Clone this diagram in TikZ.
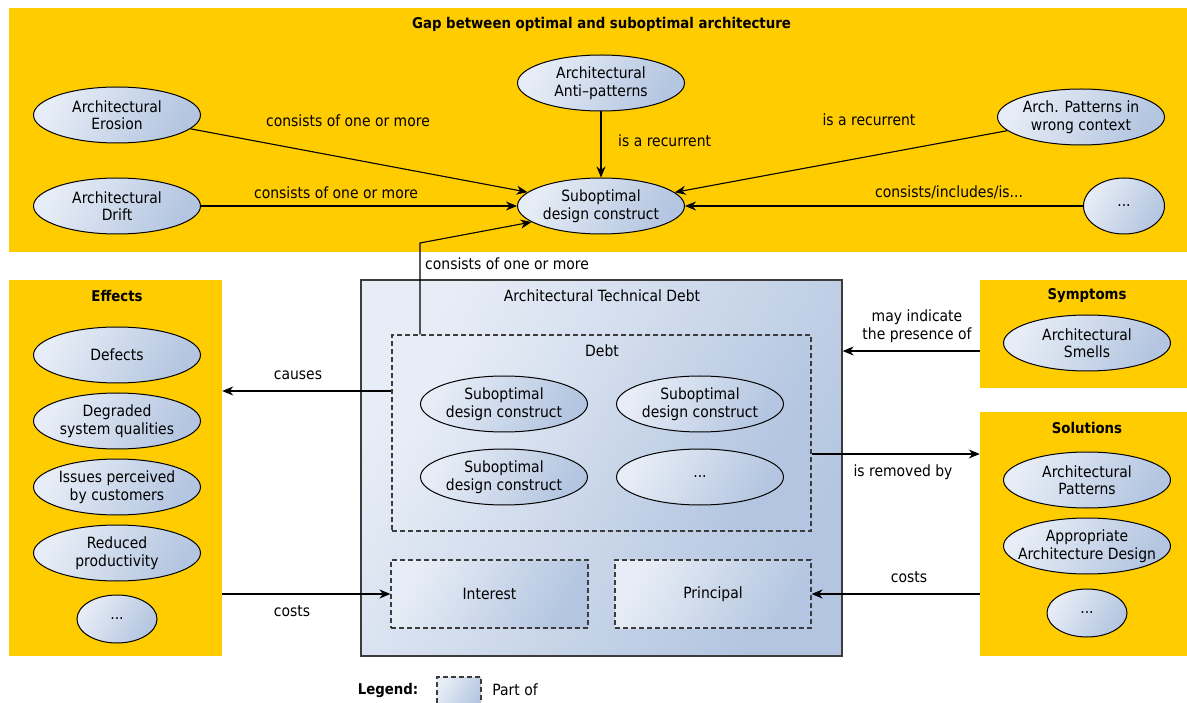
\documentclass[tikz,border=0pt]{standalone}
\usepackage{fontspec}
\setmainfont{DejaVu Sans}[FakeStretch=0.9]
\usepackage{tikz}
\usetikzlibrary{positioning, arrows.meta, shapes.geometric}
\definecolor{gapyellow}{HTML}{FFCC00}
\definecolor{ellLight}{HTML}{E7EDF6}
\definecolor{ellDark}{HTML}{B3C5E0}
\definecolor{frameGray}{HTML}{3C3C3C}
\tikzset{>={Stealth[length=11pt,width=9pt,inset=3.5pt]},
every node/.style={font=\fontsize{15.5}{17.5}\selectfont},
area/.style={rectangle, fill=gapyellow, inner sep=0pt},
ttl/.style={font=\fontsize{14.8}{17.5}\selectfont\bfseries},
ell/.style={ellipse, draw, line width=1pt, left color=ellLight, right color=ellDark,
  shading angle=60, minimum width=167pt, minimum height=56pt,
  inner xsep=-30pt, inner ysep=0pt, align=center},
dots/.style={ell, minimum width=80pt, minimum height=48pt},
part/.style={rectangle, draw=frameGray, line width=1.1pt, dash pattern=on 5pt off 3pt,
  left color=ellLight, right color=ellDark, shading angle=60, inner sep=0pt},
lbl/.style={align=center, inner sep=1pt},
link/.style={draw, ->, line width=1.1pt}
}

\begin{document}
\begin{tikzpicture}[x=1pt, y=-1pt]
\useasboundingbox (0,0) rectangle (1187,703);
% yellow areas
\node[area, minimum width=1185pt, minimum height=244pt] (gap) at (601.5,130) {};
\node[area, minimum width=213pt, minimum height=376pt] (effects) at (115.5,468) {};
\node[area, minimum width=214pt, minimum height=108pt] (symp) at (1087,334) {};
\node[area, minimum width=214pt, minimum height=244pt] (sol) at (1087,534) {};
\node[ttl] (gapT) at (601.5,24) {Gap between optimal and suboptimal architecture};
\node[ttl] (effT) at (117,296) {Effects};
\node[ttl] (sympT) at (1087,296) {Symptoms};
\node[ttl] (solT) at (1087,428) {Solutions};

% gap
\node[ell] (ero) at (117,115) {Architectural\\Erosion};
\node[ell] (drift) at (117,206) {Architectural\\Drift};
\node[ell] (anti) at (601,83) {Architectural\\Anti--patterns};
\node[ell] (sdc) at (601,206) {Suboptimal\\design construct};
\node[ell] (apw) at (1081,117) {Arch. Patterns in\\wrong context};
\node[dots, minimum width=81pt, minimum height=56pt] (more) at (1124,206) {...};

% effects
\node[ell] (def) at (117,355) {Defects};
\node[ell, below=9pt of def] (deg) {Degraded\\system qualities};
\node[ell, below=9pt of deg] (iss) {Issues perceived\\by customers};
\node[ell, below=9pt of iss] (red) {Reduced\\productivity};
\node[dots, below=13pt of red] (eDots) {...};

% architectural technical debt
\node[rectangle, draw=frameGray, line width=1.3pt, left color=ellLight, right color=ellDark,
  shading angle=60, minimum width=481pt, minimum height=376pt] (atd) at (601.5,468) {};
\node (atdT) at (602,296) {Architectural Technical Debt};
\node[part, minimum width=419pt, minimum height=196pt] (debt) at (601.5,433) {};
\node (debtT) at (602,351) {Debt};
\node[ell] (dsc1) at (504,404) {Suboptimal\\design construct};
\node[ell, right=28pt of dsc1] (dsc2) {Suboptimal\\design construct};
\node[ell, below=16pt of dsc1] (dsc3) {Suboptimal\\design construct};
\node[ell, below=16pt of dsc2] (dDots) {...};
\node[part, minimum width=197pt, minimum height=68pt] (interest) at (489.5,594) {Interest};
\node[part, minimum width=196pt, minimum height=68pt] (principal) at (713,594) {Principal};

% symptoms, solutions
\node[ell] (smells) at (1087,343) {Architectural\\Smells};
\node[ell] (patt) at (1087,480) {Architectural\\Patterns};
\node[ell, below=9pt of patt] (appr) {Appropriate\\Architecture Design};
\node[dots, below=14pt of appr] (sDots) {...};

% labels
\node[lbl] (lEro) at (348,121) {consists of one or more};
\node[lbl] (lDrift) at (336,193) {consists of one or more};
\node[lbl, anchor=west] (lAnti) at (617,141) {is a recurrent};
\node[lbl] (lApw) at (869,120) {is a recurrent};
\node[lbl] (lMore) at (949,192) {consists/includes/is...};
\node[lbl, anchor=west] (lDebt) at (424,264) {consists of one or more};
\node[lbl] (lCause) at (298,375) {causes};
\node[lbl] (lCostE) at (292,611) {costs};
\node[lbl] (lSymp) at (917,326) {may indicate\\the presence of};
\node[lbl] (lRem) at (903,472) {is removed by};
\node[lbl] (lCostS) at (909,577) {costs};

\coordinate (bend) at (420,243);
\coordinate (causeY) at (0,391);
\coordinate (sympY) at (0,351);
\coordinate (remY) at (0,454);

\path[every edge/.style=link]
(ero) edge (sdc)
(drift) edge (sdc)
(anti) edge (sdc)
(apw) edge (sdc)
(more) edge (sdc)
(debt.west |- causeY) edge (effects.east |- causeY)
(effects.east |- interest) edge (interest.west)
(symp.west |- sympY) edge (atd.east |- sympY)
(debt.east |- remY) edge (sol.west |- remY)
(sol.west |- principal) edge (principal.east)
;
\draw[link] (debt.north -| bend) -- (bend) -- (sdc.193);

% legend
\node[ttl] (legT) at (388,690) {Legend:};
\node[part, minimum width=44pt, minimum height=35pt] (legBox) at (459,694.5) {};
\node (legL) at (515,690) {Part of};
\end{tikzpicture}
\end{document}
